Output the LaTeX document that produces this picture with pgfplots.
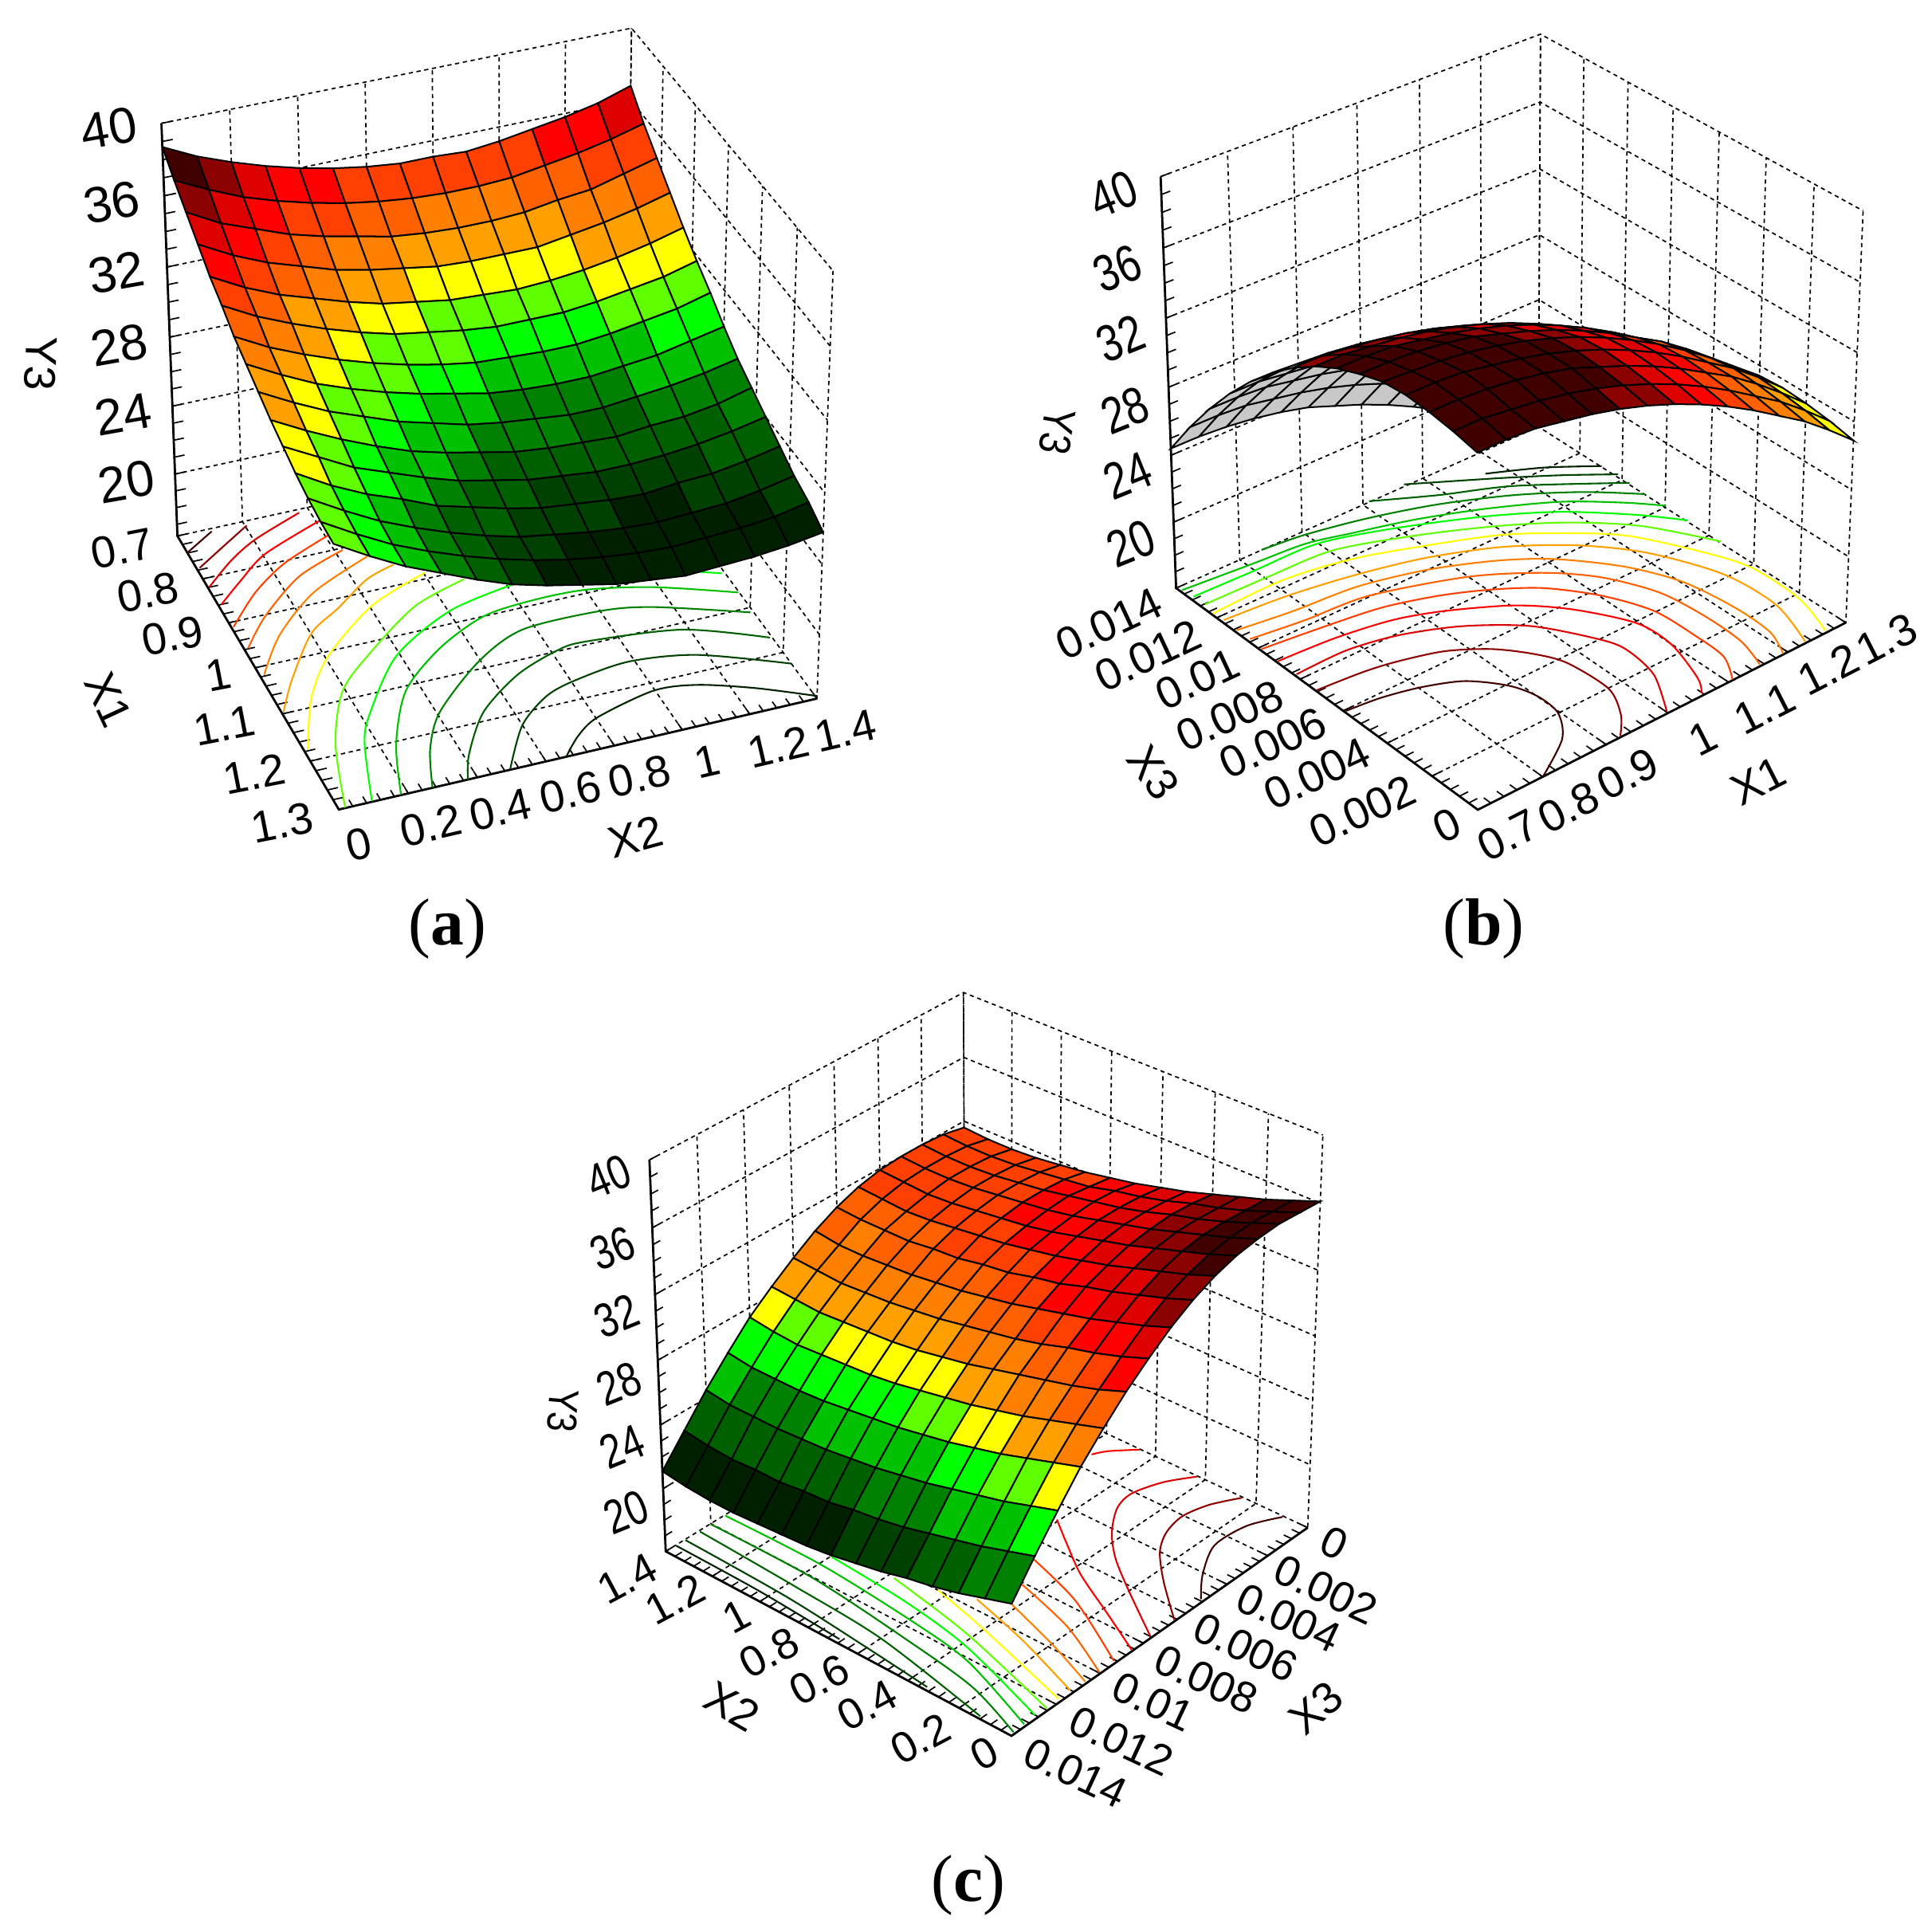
\documentclass[border=0pt]{standalone}
\usepackage{fontspec}
\setmainfont{Liberation Sans}
\newfontfamily\capfont{Liberation Serif}
\usepackage{pgfplots}
\pgfplotsset{compat=1.18}

\definecolor{c1}{RGB}{0,32,0}\definecolor{c2}{RGB}{0,64,0}\definecolor{c3}{RGB}{0,96,0}\definecolor{c4}{RGB}{0,128,0}
\definecolor{c5}{RGB}{0,192,0}\definecolor{c6}{RGB}{0,255,0}\definecolor{c7}{RGB}{96,255,0}\definecolor{c8}{RGB}{255,255,0}
\definecolor{c9}{RGB}{255,160,0}\definecolor{c10}{RGB}{255,128,0}\definecolor{c11}{RGB}{255,96,0}\definecolor{c12}{RGB}{255,64,0}
\definecolor{c13}{RGB}{255,0,0}\definecolor{c14}{RGB}{221,0,0}\definecolor{c15}{RGB}{139,0,0}\definecolor{c16}{RGB}{64,0,0}

% stepped colour scales, one per panel (Y3 value -> band)
\pgfplotsset{
 colormap={bandA}{color(16cm)=(c1) color(26.3cm)=(c1) color(26.31cm)=(c2) color(27.1cm)=(c2) color(27.11cm)=(c3) color(27.9cm)=(c3) color(27.91cm)=(c4) color(28.7cm)=(c4) color(28.71cm)=(c5) color(29.6cm)=(c5) color(29.61cm)=(c6) color(30.3cm)=(c6) color(30.31cm)=(c7) color(31.1cm)=(c7) color(31.11cm)=(c8) color(32cm)=(c8) color(32.01cm)=(c9) color(33cm)=(c9) color(33.01cm)=(c10) color(33.6cm)=(c10) color(33.61cm)=(c11) color(34.3cm)=(c11) color(34.31cm)=(c12) color(35cm)=(c12) color(35.01cm)=(c13) color(35.9cm)=(c13) color(35.91cm)=(c14) color(36.7cm)=(c14) color(36.71cm)=(c15) color(37.5cm)=(c15) color(37.51cm)=(c16) color(40cm)=(c16)},
 colormap={bandB}{color(16cm)=(c1) color(20cm)=(c1) color(20.01cm)=(c2) color(21.5cm)=(c2) color(21.51cm)=(c3) color(23cm)=(c3) color(23.01cm)=(c4) color(24cm)=(c4) color(24.01cm)=(c5) color(25cm)=(c5) color(25.01cm)=(c6) color(26cm)=(c6) color(26.01cm)=(c7) color(27.2cm)=(c7) color(27.21cm)=(c8) color(28.2cm)=(c8) color(28.21cm)=(c9) color(29.3cm)=(c9) color(29.31cm)=(c10) color(30.4cm)=(c10) color(30.41cm)=(c11) color(31.4cm)=(c11) color(31.41cm)=(c12) color(32.3cm)=(c12) color(32.31cm)=(c13) color(33.1cm)=(c13) color(33.11cm)=(c14) color(34cm)=(c14) color(34.01cm)=(c15) color(35cm)=(c15) color(35.01cm)=(c16) color(40cm)=(c16)},
 colormap={bandC}{color(16cm)=(c1) color(22.2cm)=(c1) color(22.21cm)=(c2) color(23.1cm)=(c2) color(23.11cm)=(c3) color(24cm)=(c3) color(24.01cm)=(c4) color(25.1cm)=(c4) color(25.11cm)=(c5) color(26.3cm)=(c5) color(26.31cm)=(c6) color(27.2cm)=(c6) color(27.21cm)=(c7) color(27.8cm)=(c7) color(27.81cm)=(c8) color(28.7cm)=(c8) color(28.71cm)=(c9) color(29.7cm)=(c9) color(29.71cm)=(c10) color(30.6cm)=(c10) color(30.61cm)=(c11) color(31.4cm)=(c11) color(31.41cm)=(c12) color(32.3cm)=(c12) color(32.31cm)=(c13) color(33.2cm)=(c13) color(33.21cm)=(c14) color(34.2cm)=(c14) color(34.21cm)=(c15) color(35.2cm)=(c15) color(35.21cm)=(c16) color(40cm)=(c16)},
 colormap={underside}{rgb255=(200,200,200) rgb255=(200,200,200)},
 canvas/.style={scale only axis,width=1568pt,height=1568pt,at={(0,0)},anchor=south west,hide axis,clip=false,
  xmin=0,xmax=1568,ymin=0,ymax=1568,zmin=-1,zmax=1,y dir=reverse,view={0}{90},point meta min=16,point meta max=40},
 sf/.style={surf,shader=faceted,faceted color=black,line width=1.3pt,z buffer=none,mesh/cols=15,point meta=\thisrowno{0}},
 ct/.style={no marks,#1,line width=1.35pt,smooth,tension=.5,line join=round},
}
% Y3 values on a 15 x 15 grid, far corner first; the perspective of each panel is applied by x#1, y#1 below
\pgfkeys{/pgfplots/table/srf/.style n args={2}{row sep=\\,header=false,z expr=0,
  x expr={x#1((14-\coordindex+15*floor((\coordindex+.5)/15))/14,(#2-floor((\coordindex+.5)/15))/14,w#1(\thisrowno{0}))},
  y expr={y#1((14-\coordindex+15*floor((\coordindex+.5)/15))/14,(#2-floor((\coordindex+.5)/15))/14,w#1(\thisrowno{0}))}},
 /pgfplots/table/zm/.style n args={4}{row sep=\\,header=false,z expr=0,x expr=#1*\thisrowno{0}+#2,y expr=#3*\thisrowno{1}+#4}}

\newcommand\Pt[4]{(axis cs:{x#1(#2,#3,#4)},{y#1(#2,#3,#4)},0)}
\tikzset{gl/.style={black,line width=1.1pt,dash pattern=on 3.4pt off 3pt},
 sl/.style={black,line width=1.8pt},
 tk/.style={black,line width=1.1pt},
 lab/.style={font=\fontsize{#1}{#1}\selectfont,inner sep=0pt,anchor=center},lab/.default=38,
 pcap/.style={font=\fontsize{54}{58}\selectfont\capfont,inner sep=0pt,anchor=center}}

% box walls, floor grid, axis lines and ticks of one panel
\newcommand\frameP[5]{%
 \pgfplotsinvokeforeach{0,...,#2}{\draw[gl] \Pt{#1}{##1/#2}{0}{0} -- \Pt{#1}{##1/#2}{1}{0} -- \Pt{#1}{##1/#2}{1}{1};}
 \pgfplotsinvokeforeach{0,...,#3}{\draw[gl] \Pt{#1}{0}{##1/#3}{0} -- \Pt{#1}{1}{##1/#3}{0} -- \Pt{#1}{1}{##1/#3}{1};}
 \pgfplotsinvokeforeach{20,24,...,40}{\draw[gl] \Pt{#1}{0}{1}{w#1(##1)} -- \Pt{#1}{1}{1}{w#1(##1)} -- \Pt{#1}{1}{0}{w#1(##1)};}
 \draw[sl] \Pt{#1}{0}{1}{1} -- \Pt{#1}{0}{1}{0} -- \Pt{#1}{0}{0}{0} -- \Pt{#1}{1}{0}{0};
 \pgfplotsinvokeforeach{0,...,#4}{\draw[tk] \Pt{#1}{##1/#4}{0}{0} -- \Pt{#1}{##1/#4}{.022}{0};}
 \pgfplotsinvokeforeach{0,...,#5}{\draw[tk] \Pt{#1}{0}{##1/#5}{0} -- \Pt{#1}{.022}{##1/#5}{0};}
 \pgfplotsinvokeforeach{17,...,40}{\draw[tk] \Pt{#1}{0}{1}{w#1(##1)} -- \Pt{#1}{.022}{1}{w#1(##1)};}
}

\begin{document}
\begin{tikzpicture}[declare function={
  dA(\u,\v,\w)=1+.02*\u+.075*\v-.05*\w;
  xA(\u,\v,\w)=(275+401.3*\u-120.2*\v-20.5*\w)/dA(\u,\v,\w);
  yA(\u,\v,\w)=(657-78.7*\u-189.4*\v-365*\w)/dA(\u,\v,\w);
  wA(\z)=(\z-16.3)/23.7;
  dB(\u,\v,\w)=1+.07*\u+.075*\v-.05*\w;
  xB(\u,\v,\w)=(1199.4+403.5*\u-173.3*\v-60.6*\w)/dB(\u,\v,\w);
  yB(\u,\v,\w)=(657.2-116.5*\u-144.1*\v-366.2*\w)/dB(\u,\v,\w);
  wB(\z)=(\z-16)/24;
  dC(\u,\v,\w)=1+.07*\u+.07*\v-.05*\w;
  xC(\u,\v,\w)=(820.9+314.7*\u-242.8*\v-40.5*\w)/dC(\u,\v,\w);
  yC(\u,\v,\w)=(1408.8-82.2*\u-61.6*\v-387*\w)/dC(\u,\v,\w);
  wC(\z)=(\z-16)/24;
 }]
\path[use as bounding box] (0,0) rectangle (1568pt,1568pt);

%% (a) Y3 over X1 and X2
\begin{axis}[canvas,colormap name=bandA]
\frameP{A}{7}{6}{35}{30}
\addplot3[ct=c16] table[zm={.3939}{97}{.2156}{414}]{140 160\\ 190 80\\};
\addplot3[ct=c15] table[zm={.3939}{97}{.2156}{414}]{165 218\\ 215 135\\ 262 58\\};
\addplot3[ct=c14] table[zm={.3939}{97}{.2156}{414}]{185 290\\ 230 190\\ 280 110\\ 370 10\\};
\addplot3[ct=c13] table[zm={.3939}{97}{.2156}{414}]{210 355\\ 250 265\\ 300 165\\ 412 40\\};
\addplot3[ct=c12] table[zm={.3939}{97}{.2156}{414}]{235 440\\ 280 310\\ 340 200\\ 430 95\\};
\addplot3[ct=c11] table[zm={.3939}{97}{.2156}{414}]{265 520\\ 300 400\\ 370 250\\ 460 150\\};
\addplot3[ct=c10] table[zm={.3939}{97}{.2156}{414}]{298 620\\ 330 470\\ 400 310\\ 510 175\\};
\addplot3[ct=c9] table[zm={.3939}{97}{.2156}{414}]{338 760\\ 355 640\\ 395 465\\ 450 370\\ 510 260\\ 565 205\\};
\addplot3[ct=c8] table[zm={.3939}{97}{.2156}{414}]{388 900\\ 395 710\\ 430 550\\ 520 360\\ 630 235\\};
\addplot3[ct=c7] table[zm={.3939}{97}{.2156}{414}]{465 1120\\ 445 880\\ 460 680\\ 520 530\\ 610 360\\ 710 260\\};
\addplot3[ct=c6] table[zm={.3939}{97}{.2156}{414}]{520 1095\\ 505 880\\ 515 770\\ 570 550\\ 680 380\\ 810 280\\};
\addplot3[ct=c6] table[zm={.3939}{97}{.2156}{414}]{1190 232\\ 1240 238\\};
\addplot3[ct=c5] table[zm={.3939}{97}{.2156}{414}]{580 1070\\ 570 880\\ 590 680\\ 660 520\\ 750 400\\ 850 340\\ 960 300\\ 1100 290\\ 1275 310\\};
\addplot3[ct=c4] table[zm={.3939}{97}{.2156}{414}]{645 1045\\ 640 900\\ 660 760\\ 740 570\\ 830 450\\ 990 380\\ 1100 365\\ 1300 385\\};
\addplot3[ct=c3] table[zm={.3939}{97}{.2156}{414}]{718 1015\\ 720 920\\ 750 760\\ 820 620\\ 900 530\\ 960 495\\ 1160 450\\ 1340 480\\};
\addplot3[ct=c2] table[zm={.3939}{97}{.2156}{414}]{805 975\\ 830 810\\ 880 700\\ 940 640\\ 1050 570\\ 1190 545\\ 1385 578\\};
\addplot3[ct=c1] table[zm={.3939}{97}{.2156}{414}]{920 930\\ 945 850\\ 985 780\\ 1100 680\\ 1190 658\\ 1310 670\\ 1438 700\\};
\addplot3[sf,mesh/rows=15] table[srf={A}{14}]{
36.8\\36.2\\35.8\\35.5\\35.2\\35.0\\35.1\\35.1\\35.3\\35.6\\36.0\\36.5\\37.1\\37.8\\38.7\\
35.6\\35.1\\34.7\\34.4\\34.1\\34.0\\34.0\\34.1\\34.3\\34.6\\35.0\\35.5\\36.1\\36.9\\37.8\\
34.6\\34.1\\33.6\\33.4\\33.1\\33.0\\33.0\\33.1\\33.3\\33.7\\34.1\\34.6\\35.3\\36.0\\37.0\\
33.6\\33.1\\32.7\\32.4\\32.1\\32.1\\32.1\\32.2\\32.5\\32.8\\33.2\\33.8\\34.4\\35.2\\36.2\\
32.6\\32.1\\31.7\\31.4\\31.2\\31.1\\31.2\\31.3\\31.6\\31.9\\32.4\\33.0\\33.6\\34.4\\35.4\\
31.7\\31.2\\30.9\\30.6\\30.4\\30.4\\30.4\\30.6\\30.9\\31.2\\31.7\\32.3\\33.0\\33.8\\34.8\\
30.9\\30.4\\30.1\\29.8\\29.6\\29.6\\29.7\\29.8\\30.1\\30.5\\31.0\\31.6\\32.3\\33.1\\34.1\\
30.0\\29.6\\29.2\\29.0\\28.8\\28.8\\28.9\\29.1\\29.5\\29.9\\30.4\\31.0\\31.7\\32.6\\33.6\\
29.2\\28.8\\28.5\\28.3\\28.1\\28.1\\28.3\\28.5\\28.8\\29.3\\29.8\\30.5\\31.2\\32.1\\33.1\\
28.6\\28.1\\27.8\\27.7\\27.5\\27.6\\27.7\\27.9\\28.3\\28.7\\29.2\\29.9\\30.7\\31.6\\32.6\\
28.0\\27.6\\27.3\\27.1\\27.0\\27.0\\27.2\\27.4\\27.8\\28.2\\28.8\\29.5\\30.2\\31.2\\32.2\\
27.4\\27.0\\26.7\\26.6\\26.4\\26.5\\26.7\\26.9\\27.3\\27.8\\28.3\\29.1\\29.8\\30.7\\31.8\\
26.8\\26.4\\26.1\\26.0\\25.9\\26.0\\26.2\\26.5\\26.8\\27.3\\27.9\\28.6\\29.4\\30.4\\31.5\\
26.4\\26.0\\25.8\\25.7\\25.6\\25.7\\25.9\\26.2\\26.6\\27.1\\27.7\\28.4\\29.2\\30.2\\31.3\\
25.8\\25.5\\25.3\\25.2\\25.1\\25.3\\25.5\\25.9\\26.3\\26.8\\27.5\\28.3\\29.1\\30.1\\31.2\\
};
\node[lab=41,rotate=10] at (axis cs:88.5,104,0) {40};
\node[lab=41,rotate=10] at (axis cs:90.7,164,0) {36};
\node[lab=41,rotate=10] at (axis cs:94.4,221,0) {32};
\node[lab=41,rotate=10] at (axis cs:96.6,280,0) {28};
\node[lab=41,rotate=10] at (axis cs:99.8,336,0) {24};
\node[lab=41,rotate=10] at (axis cs:102.5,391,0) {20};
\node[lab=36,rotate=-92] at (axis cs:33,295,0) {Y3};
\node[lab=36,rotate=11] at (axis cs:99,445,0) {0.7};
\node[lab=36,rotate=11] at (axis cs:120,481,0) {0.8};
\node[lab=36,rotate=11] at (axis cs:140,516,0) {0.9};
\node[lab=36,rotate=11] at (axis cs:177,548,0) {1};
\node[lab=36,rotate=11] at (axis cs:182,589,0) {1.1};
\node[lab=36,rotate=11] at (axis cs:206.5,628,0) {1.2};
\node[lab=36,rotate=11] at (axis cs:229,668,0) {1.3};
\node[lab=36,rotate=-65] at (axis cs:88,568,0) {X1};
\node[lab=36,rotate=13] at (axis cs:291,685,0) {0};
\node[lab=36,rotate=13] at (axis cs:350,670,0) {0.2};
\node[lab=36,rotate=13] at (axis cs:406,657,0) {0.4};
\node[lab=36,rotate=13] at (axis cs:463,643,0) {0.6};
\node[lab=36,rotate=13] at (axis cs:519,630,0) {0.8};
\node[lab=36,rotate=13] at (axis cs:574,618,0) {1};
\node[lab=36,rotate=13] at (axis cs:632,606,0) {1.2};
\node[lab=36,rotate=13] at (axis cs:686,593,0) {1.4};
\node[lab=36,rotate=15] at (axis cs:516,679,0) {X2};
\node[pcap] at (axis cs:363,754,0) {(\textbf{a})};
\end{axis}

%% (b) Y3 over X1 and X3
\begin{axis}[canvas,colormap name=bandB]
\frameP{B}{6}{7}{30}{35}
\addplot3[ct=c16] table[zm={.4719}{828}{.2475}{362.2}]{560 868\\ 620 825\\ 690 790\\ 765 770\\ 840 785\\ 890 820\\ 925 875\\ 932 960\\ 900 1080\\};
\addplot3[ct=c15] table[zm={.4719}{828}{.2475}{362.2}]{510 800\\ 590 740\\ 650 705\\ 730 672\\ 810 665\\ 880 680\\ 940 710\\ 1012 795\\ 1033 880\\ 1032 950\\};
\addplot3[ct=c14] table[zm={.4719}{828}{.2475}{362.2}]{475 748\\ 560 670\\ 650 620\\ 760 590\\ 880 590\\ 1000 635\\ 1045 670\\ 1090 750\\ 1112 870\\};
\addplot3[ct=c13] table[zm={.4719}{828}{.2475}{362.2}]{443 705\\ 540 630\\ 640 570\\ 730 540\\ 850 522\\ 950 535\\ 1060 580\\ 1120 650\\ 1165 760\\ 1172 810\\};
\addplot3[ct=c12] table[zm={.4719}{828}{.2475}{362.2}]{415 665\\ 510 600\\ 620 530\\ 720 490\\ 810 470\\ 900 465\\ 1000 490\\ 1090 540\\ 1160 620\\ 1210 690\\ 1225 765\\};
\addplot3[ct=c11] table[zm={.4719}{828}{.2475}{362.2}]{395 632\\ 490 570\\ 600 490\\ 770 428\\ 900 415\\ 1000 430\\ 1100 480\\ 1180 560\\ 1240 640\\ 1272 715\\};
\addplot3[ct=c10] table[zm={.4719}{828}{.2475}{362.2}]{372 603\\ 470 540\\ 580 460\\ 700 405\\ 820 375\\ 920 370\\ 1040 395\\ 1140 445\\ 1230 530\\ 1290 610\\ 1312 680\\};
\addplot3[ct=c9] table[zm={.4719}{828}{.2475}{362.2}]{350 570\\ 460 490\\ 580 420\\ 700 365\\ 830 330\\ 960 325\\ 1080 350\\ 1210 420\\ 1300 520\\ 1350 640\\};
\addplot3[ct=c8] table[zm={.4719}{828}{.2475}{362.2}]{332 548\\ 450 440\\ 570 370\\ 700 325\\ 830 290\\ 950 285\\ 1050 295\\ 1180 350\\ 1260 400\\ 1340 500\\ 1385 605\\};
\addplot3[ct=c7] table[zm={.4719}{828}{.2475}{362.2}]{318 518\\ 430 425\\ 540 340\\ 690 290\\ 830 260\\ 950 250\\ 1070 262\\ 1205 312\\};
\addplot3[ct=c6] table[zm={.4719}{828}{.2475}{362.2}]{298 493\\ 400 410\\ 510 320\\ 640 270\\ 800 230\\ 930 215\\ 1060 225\\ 1148 243\\};
\addplot3[ct=c5] table[zm={.4719}{828}{.2475}{362.2}]{278 472\\ 400 385\\ 490 320\\ 570 285\\ 680 240\\ 800 205\\ 930 182\\ 1040 185\\ 1110 195\\};
\addplot3[ct=c4] table[zm={.4719}{828}{.2475}{362.2}]{415 340\\ 490 290\\ 600 235\\ 720 190\\ 850 160\\ 970 150\\ 1075 157\\};
\addplot3[ct=c3] table[zm={.4719}{828}{.2475}{362.2}]{600 180\\ 720 160\\ 850 130\\ 1048 120\\};
\addplot3[ct=c2] table[zm={.4719}{828}{.2475}{362.2}]{660 125\\ 820 105\\ 930 95\\ 1028 92\\};
\addplot3[ct=c1] table[zm={.4719}{828}{.2475}{362.2}]{800 90\\ 900 70\\ 1000 65\\};
% far slope, seen from below
\addplot3[sf,mesh/rows=7,colormap name=underside] table[srf={B}{14}]{
16.0\\16.6\\17.8\\18.9\\19.8\\20.7\\21.5\\22.2\\22.8\\23.4\\23.8\\24.1\\24.3\\24.4\\24.4\\
17.4\\18.7\\19.9\\20.9\\21.9\\22.8\\23.6\\24.3\\24.9\\25.4\\25.8\\26.1\\26.4\\26.5\\26.5\\
19.3\\20.6\\21.8\\22.8\\23.8\\24.7\\25.5\\26.2\\26.8\\27.3\\27.7\\28.0\\28.3\\28.4\\28.4\\
21.0\\22.3\\23.4\\24.5\\25.5\\26.4\\27.2\\27.9\\28.5\\29.0\\29.4\\29.7\\29.9\\30.1\\30.1\\
22.5\\23.7\\24.9\\26.0\\27.0\\27.9\\28.7\\29.4\\30.0\\30.5\\30.9\\31.2\\31.4\\31.5\\31.6\\
23.8\\25.0\\26.2\\27.3\\28.3\\29.2\\30.0\\30.7\\31.3\\31.8\\32.2\\32.5\\32.7\\32.8\\32.9\\
24.9\\26.2\\27.3\\28.4\\29.4\\30.3\\31.1\\31.8\\32.4\\32.9\\33.3\\33.6\\33.8\\34.0\\34.0\\
};
\addplot3[sf,mesh/rows=9] table[srf={B}{8}]{
24.9\\26.2\\27.3\\28.4\\29.4\\30.3\\31.1\\31.8\\32.4\\32.9\\33.3\\33.6\\33.8\\34.0\\34.0\\
25.8\\27.1\\28.3\\29.3\\30.3\\31.2\\32.0\\32.7\\33.3\\33.8\\34.2\\34.5\\34.7\\34.9\\34.9\\
26.5\\27.8\\29.0\\30.0\\31.0\\31.9\\32.7\\33.4\\34.0\\34.5\\34.9\\35.2\\35.5\\35.6\\35.6\\
27.0\\28.3\\29.5\\30.6\\31.5\\32.4\\33.2\\33.9\\34.5\\35.0\\35.5\\35.8\\36.0\\36.1\\36.1\\
27.4\\28.6\\29.8\\30.9\\31.9\\32.8\\33.6\\34.3\\34.9\\35.4\\35.8\\36.1\\36.3\\36.4\\36.5\\
27.5\\28.8\\30.0\\31.0\\32.0\\32.9\\33.7\\34.4\\35.0\\35.5\\35.9\\36.2\\36.5\\36.6\\36.6\\
27.4\\28.7\\29.9\\31.0\\31.9\\32.8\\33.6\\34.3\\34.9\\35.5\\35.9\\36.2\\36.4\\36.5\\36.5\\
27.2\\28.5\\29.7\\30.7\\31.7\\32.6\\33.4\\34.1\\34.7\\35.2\\35.6\\35.9\\36.1\\36.3\\36.3\\
26.9\\28.2\\29.4\\30.4\\31.4\\32.3\\33.1\\33.8\\34.4\\34.9\\35.3\\35.6\\35.9\\36.0\\36.0\\
};
\node[lab=42,rotate=22,xscale=.8] at (axis cs:903.5,158,0) {40};
\node[lab=42,rotate=22,xscale=.8] at (axis cs:907,218,0) {36};
\node[lab=42,rotate=22,xscale=.8] at (axis cs:909.6,275,0) {32};
\node[lab=42,rotate=22,xscale=.8] at (axis cs:913,333,0) {28};
\node[lab=42,rotate=22,xscale=.8] at (axis cs:915,386,0) {24};
\node[lab=42,rotate=22,xscale=.8] at (axis cs:917.7,441,0) {20};
\node[lab=36,rotate=-100,xscale=.85] at (axis cs:858,350,0) {Y3};
\node[lab=36,rotate=25] at (axis cs:900,506,0) {0.014};
\node[lab=36,rotate=25] at (axis cs:932,532,0) {0.012};
\node[lab=36,rotate=25] at (axis cs:972,551,0) {0.01};
\node[lab=36,rotate=25] at (axis cs:998,581,0) {0.008};
\node[lab=36,rotate=25] at (axis cs:1033,603,0) {0.006};
\node[lab=36,rotate=25] at (axis cs:1069,628,0) {0.004};
\node[lab=36,rotate=25] at (axis cs:1106,658,0) {0.002};
\node[lab=36,rotate=25] at (axis cs:1174,670,0) {0};
\node[lab=36,rotate=-55] at (axis cs:936,627,0) {X3};
\node[lab=36,rotate=27] at (axis cs:1224,678,0) {0.7};
\node[lab=36,rotate=27] at (axis cs:1273,655,0) {0.8};
\node[lab=36,rotate=27] at (axis cs:1321,628,0) {0.9};
\node[lab=36,rotate=27] at (axis cs:1382,599,0) {1};
\node[lab=36,rotate=27] at (axis cs:1432,575,0) {1.1};
\node[lab=36,rotate=27] at (axis cs:1484,543,0) {1.2};
\node[lab=36,rotate=27] at (axis cs:1531,519,0) {1.3};
\node[lab=36,rotate=27] at (axis cs:1427,634,0) {X1};
\node[pcap] at (axis cs:1204,754,0) {(\textbf{b})};
\end{axis}

%% (c) Y3 over X2 and X3
\begin{axis}[canvas,colormap name=bandC]
\frameP{C}{7}{7}{35}{35}
\addplot3[ct=c1] table[zm={.2156}{530.4}{.2156}{1229}]{85 118\\ 400 290\\ 700 470\\};
\addplot3[ct=c2] table[zm={.2156}{530.4}{.2156}{1229}]{120 97\\ 500 310\\ 800 500\\ 1030 650\\};
\addplot3[ct=c3] table[zm={.2156}{530.4}{.2156}{1229}]{175 65\\ 530 270\\ 860 470\\ 1230 760\\};
\addplot3[ct=c4] table[zm={.2156}{530.4}{.2156}{1229}]{215 37\\ 600 240\\ 950 470\\ 1200 650\\ 1355 820\\};
\addplot3[ct=c5] table[zm={.2156}{530.4}{.2156}{1229}]{270 5\\ 640 195\\ 1000 420\\ 1190 560\\ 1395 790\\};
\addplot3[ct=c6] table[zm={.2156}{530.4}{.2156}{1229}]{670 160\\ 950 330\\ 1180 500\\ 1435 755\\};
\addplot3[ct=c7] table[zm={.2156}{530.4}{.2156}{1229}]{905 240\\ 1180 450\\ 1480 730\\};
\addplot3[ct=c8] table[zm={.2156}{530.4}{.2156}{1229}]{1070 285\\ 1240 430\\ 1525 695\\};
\addplot3[ct=c9] table[zm={.4331}{439.8}{.264}{1151.4}]{815 555\\ 900 680\\ 990 835\\};
\addplot3[ct=c10] table[zm={.4331}{439.8}{.264}{1151.4}]{880 570\\ 960 700\\ 1018 808\\};
\addplot3[ct=c11] table[zm={.4331}{439.8}{.264}{1151.4}]{900 510\\ 985 640\\ 1045 780\\};
\addplot3[ct=c12] table[zm={.4331}{439.8}{.264}{1151.4}]{920 430\\ 1000 560\\ 1072 745\\};
\addplot3[ct=c13] table[zm={.4331}{439.8}{.264}{1151.4}]{965 310\\ 985 390\\ 1010 480\\ 1060 600\\ 1105 710\\};
\addplot3[ct=c13] table[zm={.4331}{439.8}{.264}{1151.4}]{1030 110\\ 1060 100\\ 1120 95\\};
\addplot3[ct=c14] table[zm={.4331}{439.8}{.264}{1151.4}]{1228 178\\ 1165 195\\ 1105 230\\ 1078 275\\ 1068 350\\ 1075 430\\ 1100 530\\ 1140 668\\};
\addplot3[ct=c15] table[zm={.4331}{439.8}{.264}{1151.4}]{1312 243\\ 1250 265\\ 1200 300\\ 1170 350\\ 1158 410\\ 1165 500\\ 1185 618\\};
\addplot3[ct=c16] table[zm={.4331}{439.8}{.264}{1151.4}]{1388 302\\ 1320 330\\ 1260 390\\ 1238 480\\ 1235 555\\};
\addplot3[sf,mesh/rows=15] table[srf={C}{14}]{
31.6\\31.9\\32.0\\32.0\\31.9\\31.6\\31.1\\30.4\\29.5\\28.5\\27.4\\26.0\\24.5\\22.8\\21.1\\
31.5\\31.8\\31.9\\31.9\\31.8\\31.5\\31.0\\30.2\\29.4\\28.4\\27.2\\25.8\\24.3\\22.6\\20.9\\
31.5\\31.8\\31.9\\31.9\\31.7\\31.4\\31.0\\30.2\\29.3\\28.3\\27.1\\25.8\\24.3\\22.5\\20.8\\
31.6\\31.9\\32.0\\32.0\\31.8\\31.5\\31.0\\30.3\\29.4\\28.4\\27.2\\25.8\\24.3\\22.6\\20.8\\
31.8\\32.1\\32.2\\32.2\\32.0\\31.7\\31.2\\30.4\\29.5\\28.5\\27.3\\25.9\\24.4\\22.6\\20.9\\
32.0\\32.3\\32.4\\32.4\\32.2\\31.9\\31.3\\30.6\\29.7\\28.6\\27.4\\26.1\\24.5\\22.8\\21.0\\
32.3\\32.5\\32.7\\32.6\\32.4\\32.1\\31.6\\30.8\\29.9\\28.8\\27.6\\26.3\\24.7\\22.9\\21.1\\
32.6\\32.9\\33.0\\32.9\\32.7\\32.4\\31.8\\31.1\\30.2\\29.1\\27.9\\26.5\\24.9\\23.2\\21.3\\
33.0\\33.2\\33.3\\33.3\\33.1\\32.7\\32.2\\31.4\\30.5\\29.4\\28.2\\26.8\\25.2\\23.4\\21.6\\
33.4\\33.6\\33.7\\33.7\\33.5\\33.1\\32.5\\31.8\\30.8\\29.8\\28.5\\27.1\\25.5\\23.7\\21.9\\
33.9\\34.1\\34.2\\34.1\\33.9\\33.5\\33.0\\32.2\\31.2\\30.2\\28.9\\27.5\\25.9\\24.1\\22.3\\
34.4\\34.5\\34.6\\34.6\\34.4\\34.0\\33.4\\32.6\\31.7\\30.6\\29.3\\27.9\\26.3\\24.5\\22.6\\
34.9\\35.0\\35.1\\35.1\\34.9\\34.5\\33.9\\33.1\\32.1\\31.0\\29.8\\28.4\\26.7\\24.9\\23.0\\
35.5\\35.6\\35.7\\35.6\\35.4\\35.0\\34.4\\33.6\\32.6\\31.5\\30.3\\28.9\\27.2\\25.4\\23.5\\
36.1\\36.2\\36.3\\36.2\\36.0\\35.6\\35.0\\34.2\\33.2\\32.1\\30.8\\29.4\\27.7\\25.9\\24.0\\
};
\node[lab=39,rotate=22,xscale=.8] at (axis cs:494,955,0) {40};
\node[lab=39,rotate=22,xscale=.8] at (axis cs:497.4,1013,0) {36};
\node[lab=39,rotate=22,xscale=.8] at (axis cs:500.4,1068,0) {32};
\node[lab=39,rotate=22,xscale=.8] at (axis cs:502.6,1123,0) {28};
\node[lab=39,rotate=22,xscale=.8] at (axis cs:504.8,1174,0) {24};
\node[lab=39,rotate=22,xscale=.8] at (axis cs:508.2,1227,0) {20};
\node[lab=34,rotate=-95,xscale=.85] at (axis cs:457,1145,0) {Y3};
\node[lab=35,rotate=28] at (axis cs:509,1281,0) {1.4};
\node[lab=35,rotate=28] at (axis cs:548,1298,0) {1.2};
\node[lab=35,rotate=28] at (axis cs:598,1312,0) {1};
\node[lab=35,rotate=28] at (axis cs:624,1341,0) {0.8};
\node[lab=35,rotate=28] at (axis cs:665,1363,0) {0.6};
\node[lab=35,rotate=28] at (axis cs:704,1384,0) {0.4};
\node[lab=35,rotate=28] at (axis cs:747,1411,0) {0.2};
\node[lab=35,rotate=28] at (axis cs:799,1423,0) {0};
\node[lab=36,rotate=-30] at (axis cs:594,1385,0) {X2};
\node[lab=35,rotate=-25] at (axis cs:1083,1252,0) {0};
\node[lab=35,rotate=-25] at (axis cs:1076,1290,0) {0.002};
\node[lab=35,rotate=-25] at (axis cs:1046,1313,0) {0.004};
\node[lab=35,rotate=-25] at (axis cs:1011,1337,0) {0.006};
\node[lab=35,rotate=-25] at (axis cs:979,1363,0) {0.008};
\node[lab=35,rotate=-25] at (axis cs:936,1381,0) {0.01};
\node[lab=35,rotate=-25] at (axis cs:910,1413,0) {0.012};
\node[lab=35,rotate=-25] at (axis cs:873,1439,0) {0.014};
\node[lab=36,rotate=40] at (axis cs:1068,1386,0) {X3};
\node[pcap] at (axis cs:786,1530,0) {(\textbf{c})};
\end{axis}
\end{tikzpicture}
\end{document}
